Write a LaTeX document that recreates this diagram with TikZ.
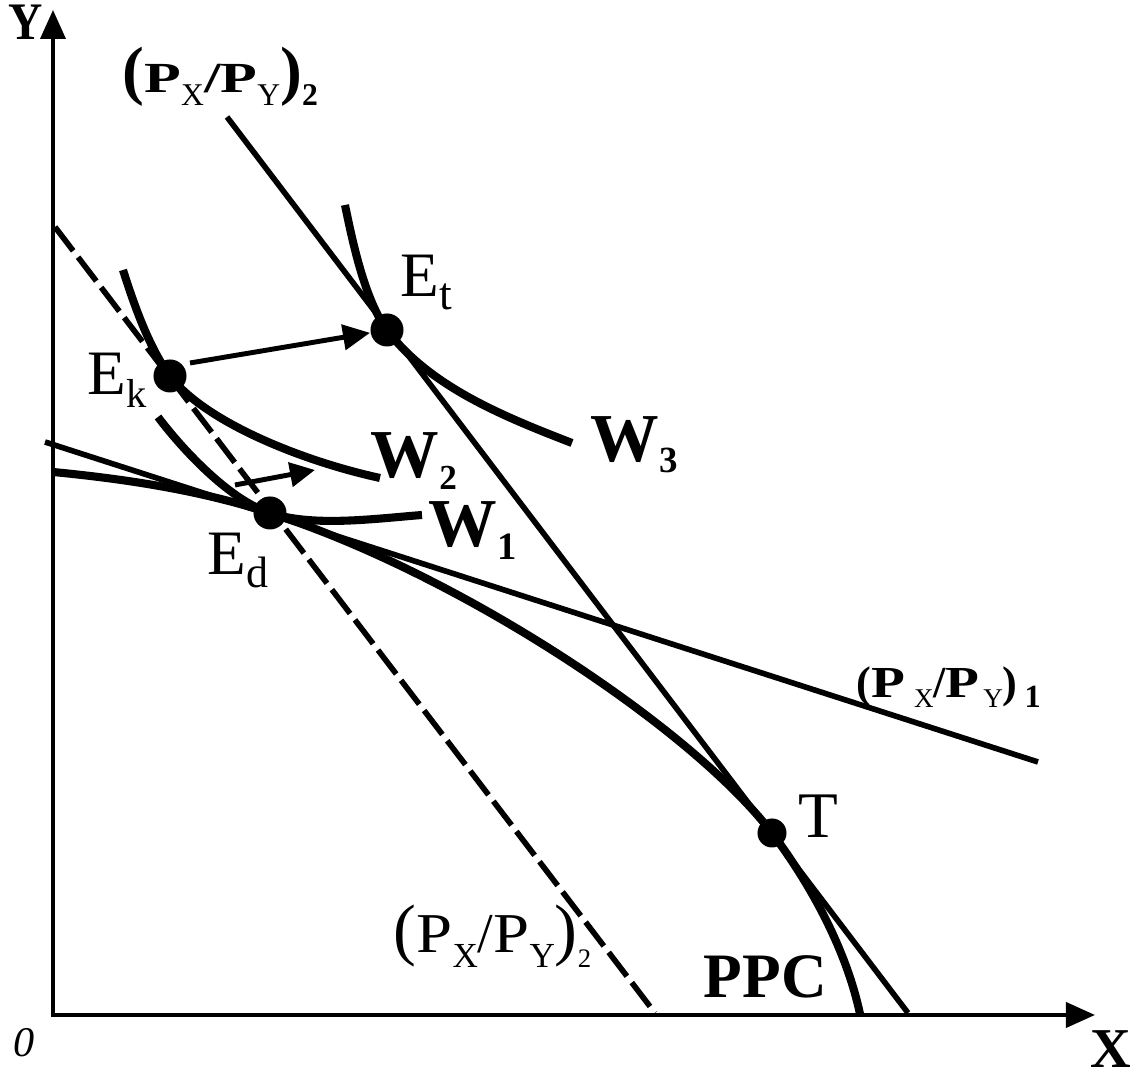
\documentclass[tikz,border=0pt]{standalone}
\usepackage{fontspec}
\setmainfont{Liberation Serif}
\usetikzlibrary{arrows.meta}

\newcommand{\fsz}[1]{\fontsize{#1}{#1}\selectfont}

\begin{document}
\begin{tikzpicture}[x=0.01cm,y=0.01cm,
		axis/.style={line width=1.1pt,{Triangle[length=0.29cm,width=0.25cm]}-{Triangle[length=0.29cm,width=0.25cm]}},
		budget/.style={line width=1.6pt},
		curve/.style={line width=2.3pt},
		dot/.style={circle,fill,inner sep=0pt,minimum size=0.33cm},
		move/.style={line width=1.4pt,-{Triangle[length=0.27cm,width=0.25cm]}},
		lab/.style={inner sep=0pt,anchor=base west}]
		\useasboundingbox (0,0) rectangle (1135,1076);
		% points
		\coordinate (O) at (53,61);
		\coordinate (xtip) at (1095,61);
		\coordinate (ytip) at (53,1066);
		\coordinate (Ek) at (170,700);
		\coordinate (Et) at (387,746);
		\coordinate (Ed) at (270,563);
		\coordinate (T) at (772,243);
		% axes
		\draw[axis] (ytip) -- (O) -- (xtip);
		% price lines
		\coordinate (a1) at (45,634);
		\coordinate (b1) at (1038,314);
		\coordinate (a2) at (227,959);
		\coordinate (b2) at (908,63);
		\coordinate (a3) at (55,849);
		\coordinate (b3) at (655,63);
		\draw[budget] (a1) -- (b1);
		\draw[budget] (a2) -- (b2);
		\draw[budget,dash pattern=on 0.3cm off 0.08cm] (a3) -- (b3);
		% PPC
		\draw[curve] (53,604) .. controls (125,597) and (199,586) .. (Ed)
			.. controls (460,502) and (693,347) .. (T)
			.. controls (814,187) and (847,123) .. (860,62);
		% W1, W2, W3
		\draw[curve] (158,659) .. controls (179,631) and (227,577) .. (Ed)
			.. controls (313,549) and (372,557) .. (422,561);
		\draw[curve] (123,806) .. controls (135,768) and (150,727) .. (Ek)
			.. controls (205,654) and (302,615) .. (380,598);
		\draw[curve] (345,871) .. controls (353,832) and (365,776) .. (Et)
			.. controls (429,690) and (502,660) .. (572,633);
		% dots
		\node[dot] (dEk) at (Ek) {};
		\node[dot] (dEt) at (Et) {};
		\node[dot] (dEd) at (Ed) {};
		\node[dot,minimum size=0.29cm] (dT) at (T) {};
		% shifts
		\coordinate (k1) at (190,713);
		\draw[move] (k1) -- (dEt);
		\coordinate (d1) at (235,591);
		\coordinate (d2) at (315,606);
		\draw[move,-{Triangle[length=0.25cm,width=0.24cm]}] (d1) -- (d2);
		% labels
		\node[lab,font=\bfseries\fsz{15}] (lY) at (8,1036) {\scalebox{0.9}[1]{Y}};
		\node[lab,font=\bfseries\fsz{16}] (lX) at (1090,8) {X};
		\node[lab,font=\itshape\fsz{12}] (l0) at (13,19) {0};
		\node[lab,font=\fsz{18}] (lEk) at (87,681) {E\raisebox{-3.7pt}{\fsz{11.5}k}};
		\node[lab,font=\fsz{18}] (lEd) at (207,501) {E\raisebox{-3.7pt}{\fsz{12.5}d}};
		\node[lab,font=\fsz{18}] (lEt) at (400,779) {E\raisebox{-3.7pt}{\fsz{13}t}};
		\node[lab,font=\fsz{18.5}] (lT) at (798,238) {T};
		\node[lab,font=\bfseries\fsz{19.5}] (lW1) at (428,529) {W\raisebox{-3.6pt}{\fsz{11}1}};
		\node[lab,font=\bfseries\fsz{19.5}] (lW2) at (370,598) {W\raisebox{-3.4pt}{\fsz{10}2}};
		\node[lab,font=\bfseries\fsz{19.5}] (lW3) at (590,614) {W\raisebox{-3pt}{\fsz{10.5}3}};
		\node[lab,font=\bfseries\fsz{18}] (lPPC) at (703,78) {PPC};
		\node[lab] (lP2) at (122,983) {\bfseries\fsz{12.2}{\fsz{18.6}(}\scalebox{1.4}[1]{P}\raisebox{-3.7pt}{\mdseries\fsz{9}X}\scalebox{1.4}[1]{/P}\raisebox{-3.7pt}{\mdseries\fsz{9}Y}{\fsz{18.6})}\raisebox{-3.7pt}{\fsz{9}2}};
		\node[lab] (lP1) at (856,378) {\bfseries\fsz{12.6}(\scalebox{1.25}[1]{P}\hspace{2.5pt}\raisebox{-2.8pt}{\mdseries\fsz{7.7}X}/\scalebox{1.25}[1]{P}\hspace{1pt}\raisebox{-2.8pt}{\mdseries\fsz{7.7}Y})\hspace{2pt}\raisebox{-2.8pt}{\fsz{9.2}1}};
		\node[lab] (lP2b) at (393,123) {\fsz{16}{\fsz{19.5}(}\scalebox{1.15}[1]{P}\raisebox{-4pt}{\fsz{10}X}/\scalebox{1.15}[1]{P}\raisebox{-4pt}{\fsz{10}Y}{\fsz{19.5})}\raisebox{-4.2pt}{\fsz{7.6}2}};
	\end{tikzpicture}
\end{document}
